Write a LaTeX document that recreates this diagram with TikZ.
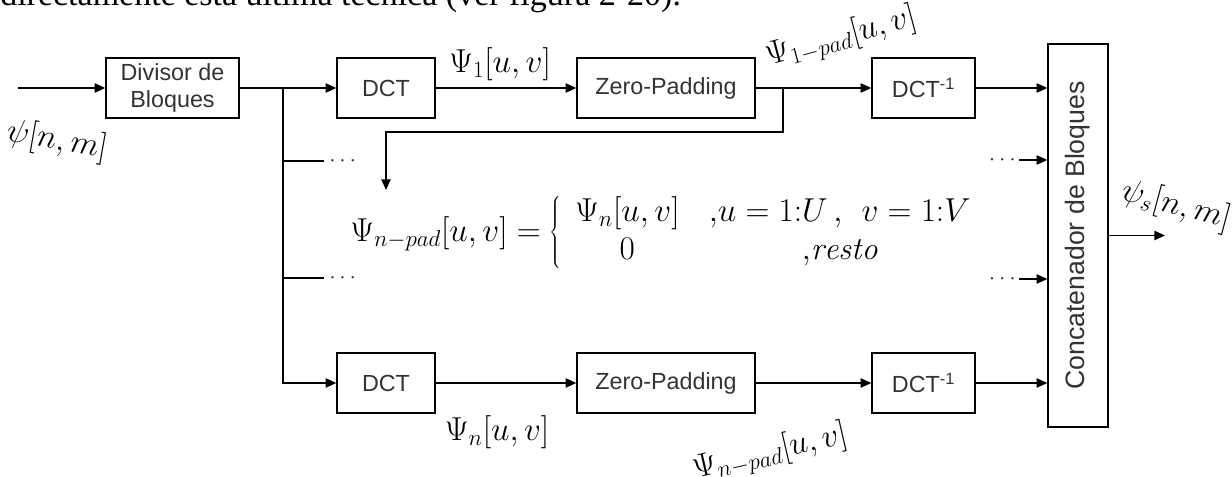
\documentclass[tikz,border=0pt]{standalone}
\usepackage{fontspec}
\setsansfont{Liberation Sans}
\newfontfamily\serifT{Liberation Serif}
\usetikzlibrary{arrows.meta}
\begin{document}
\begin{tikzpicture}[x=0.75pt,y=-0.75pt,
  blk/.style={draw, line width=1pt, minimum height=45pt, inner sep=0pt,
    font=\sffamily\fontsize{17.5}{20}\selectfont, text=black!80},
  conn/.style={line width=1pt, -{Triangle[length=8pt,width=7pt]}},
  wire/.style={line width=1pt},
  lab/.style={font=\fontsize{24}{28}\selectfont, inner sep=0pt},
  dotsn/.style={font=\sffamily\fontsize{19}{20}\selectfont, text=black!80, inner sep=0pt},
]
\useasboundingbox (0,0) rectangle (1232,477);
\clip (0,0) rectangle (1232,477);

% cut-off running text at the top
\node[anchor=base west, font=\serifT\fontsize{25.5}{28}\selectfont, inner sep=0pt] (toptext) at (0,6)
  {directamente esta última técnica (ver figura 2-20).};

% blocks
\node[blk, minimum width=99.75pt, align=center] (div) at (172.5,88) {Divisor de\\Bloques};
\node[blk, minimum width=73.5pt]  (dct1)  at (386,88)   {DCT};
\node[blk, minimum width=133.5pt] (zp1)   at (666,88)   {Zero-Padding};
\node[blk, minimum width=77.25pt] (idct1) at (923.5,88) {DCT\textsuperscript{-1}};
\node[blk, minimum width=73.5pt]  (dct2)  at (386,383)  {DCT};
\node[blk, minimum width=133.5pt] (zp2)   at (666,383)  {Zero-Padding};
\node[blk, minimum width=77.25pt] (idct2) at (923.5,383) {DCT\textsuperscript{-1}};
\node[blk, minimum width=287.25pt, rotate=90, font=\sffamily\fontsize{20}{22}\selectfont]
  (cat) at (1078,235.5) {Concatenador de Bloques};

% input
\coordinate (in) at (18,88);
\draw[conn] (in) -- (div);

% splitter
\coordinate (j1) at (283,88);
\coordinate (j2) at (283,383);
\draw[wire] (div.east) -- (j1);
\draw[conn] (j1) -- (dct1);
\draw[conn] (j1) -- (j2) -- (dct2);

% left dotted branches
\coordinate (l1) at (283,161);
\coordinate (l1e) at (324,161);
\coordinate (l2) at (283,278);
\coordinate (l2e) at (324,278);
\draw[wire] (l1) -- (l1e);
\draw[wire] (l2) -- (l2e);
\node[dotsn, anchor=west] (ld1) at (329,161) {$\cdots$};
\node[dotsn, anchor=west] (ld2) at (329,278) {$\cdots$};

% top chain
\draw[conn] (dct1) -- (zp1);
\draw[conn] (zp1) -- (idct1);
\draw[conn] (idct1) -- (idct1 -| cat.north);

% bottom chain
\draw[conn] (dct2) -- (zp2);
\draw[conn] (zp2) -- (idct2);
\draw[conn] (idct2) -- (idct2 -| cat.north);

% right dotted inputs
\node[dotsn, anchor=east] (rd1) at (1016,160) {$\cdots$};
\node[dotsn, anchor=east] (rd2) at (1016,279) {$\cdots$};
\coordinate (r1) at (1019,160);
\coordinate (r2) at (1019,279);
\draw[conn] (r1) -- (r1 -| cat.north);
\draw[conn] (r2) -- (r2 -| cat.north);

% feedback branch to the equation
\coordinate (b1) at (783,88);
\coordinate (b2) at (783,132);
\coordinate (b3) at (386,132);
\coordinate (b4) at (386,190);
\draw[conn] (b1) -- (b2) -- (b3) -- (b4);

% output
\coordinate (out) at (1165,235.5);
\draw[conn] (cat) -- (out);

% equation
\node[lab, anchor=west] (eq) at (350,233) {\renewcommand\arraystretch{1.0}%
  $\Psi_{n-pad}[u,v] = \left\{\hspace{10pt}\begin{array}{@{}c@{\hspace{22pt}}c@{}}
    \Psi_n[u,v] & {,}u = 1{:}U\,{,}\ \ v = 1{:}V \\
    0 & {,}\mathit{resto}
  \end{array}\right.$};

% labels
\node[lab, rotate=-10] (lin)  at (57,141)   {$\psi[n,m]$};
\node[lab]             (l1uv) at (500,64)   {$\Psi_1[u,v]$};
\node[lab, rotate=15]  (l1p)  at (841,38)   {$\Psi_{1-pad}[u,v]$};
\node[lab]             (lnuv) at (497,432)  {$\Psi_n[u,v]$};
\node[lab, rotate=13]  (lnp)  at (770,453)  {$\Psi_{n-pad}[u,v]$};
\node[lab, rotate=-15] (lout) at (1176,206) {$\psi_s[n,m]$};
\end{tikzpicture}
\end{document}
